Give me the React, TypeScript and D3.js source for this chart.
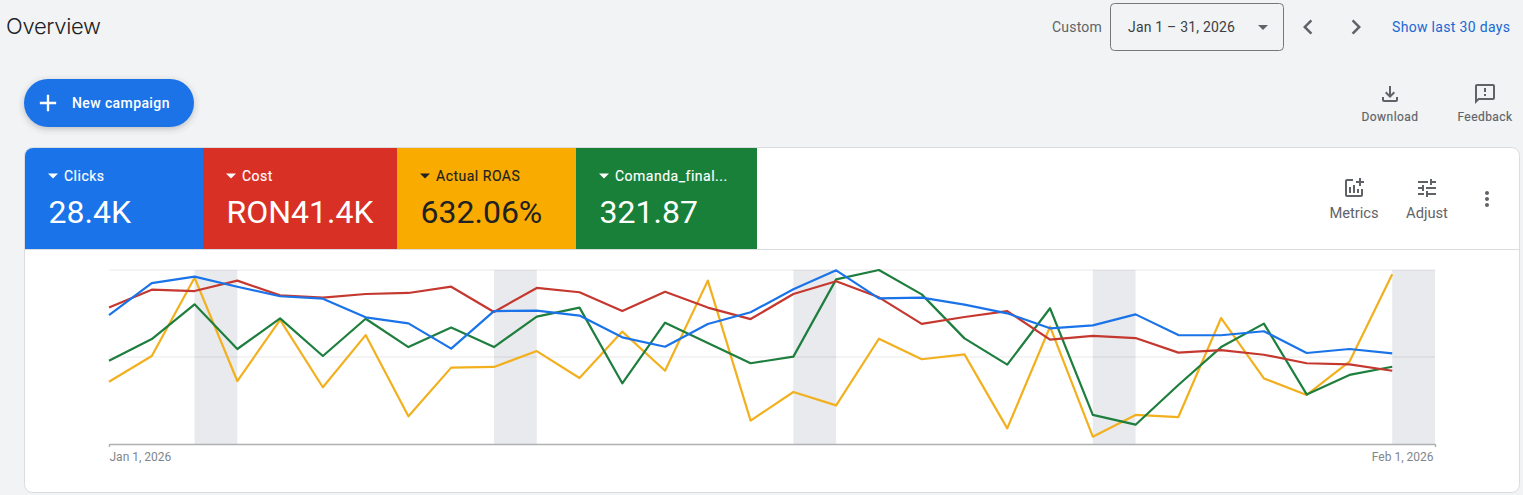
import { useEffect, useRef } from 'react';
import * as d3 from 'd3';

const clicks = [74.1, 92.5, 96.2, 90.4, 84.9, 83.5, 72.8, 69.3, 54.8, 76.4, 76.6, 73.8, 61.3, 55.9, 69.0, 75.7, 88.9, 99.8, 83.7, 84.1, 80.1, 75.1, 66.5, 68.2, 74.5, 62.6, 62.5, 64.8, 52.3, 54.6, 52.1];
const cost = [78.4, 88.7, 87.9, 93.9, 85.4, 84.1, 86.2, 86.8, 90.4, 75.9, 89.7, 87.2, 76.4, 87.5, 78.4, 71.8, 86.2, 93.5, 84.3, 69.0, 73.0, 76.4, 60.0, 62.1, 60.9, 52.5, 54.0, 51.3, 46.4, 45.8, 42.1];
const roas = [35.8, 50.6, 95.6, 36.2, 71.3, 32.6, 62.6, 15.9, 43.9, 44.3, 53.4, 37.9, 64.6, 42.1, 93.9, 13.4, 29.9, 22.2, 60.5, 48.7, 51.5, 9.0, 67.4, 4.2, 16.7, 15.5, 72.4, 37.7, 28.2, 47.3, 97.5];
const comanda = [47.9, 60.3, 80.3, 54.6, 72.2, 50.6, 72.0, 55.7, 66.9, 55.7, 73.2, 78.4, 34.9, 69.7, 58.0, 46.4, 50.2, 94.6, 100, 86.0, 60.7, 45.6, 78.0, 16.7, 11.1, 33.9, 55.7, 69.2, 28.5, 39.7, 44.4];

const metricNames = ['Clicks', 'Cost', 'Actual ROAS', 'Comanda_final...'];
const metricValues = ['28.4K', 'RON41.4K', '632.06%', '321.87'];
const metricColors = ['#1a73e8', '#d93025', '#f9ab00', '#188038'];
const lineColors = ['#1a73e8', '#c5382f', '#f2b01e', '#1e7e3e'];
const gridValues = [100, 50];

const startDate = new Date(Date.UTC(2026, 0, 1));
const endDate = new Date(Date.UTC(2026, 1, 1));

const FONT = 'Roboto, sans-serif';
const tileEdges = [25, 203, 397, 576, 757];

const ICONS = {
  download: 'M18 15v3H6v-3H4v3c0 1.1.9 2 2 2h12c1.1 0 2-.9 2-2v-3h-2zm-1-4l-1.41-1.41L13 12.17V4h-2v8.17L8.41 9.59 7 11l5 5 5-5z',
  feedback: 'M20 2H4c-1.1 0-2 .9-2 2v18l4-4h14c1.1 0 2-.9 2-2V4c0-1.1-.9-2-2-2zm0 14H5.17L4 17.17V4h16v12zM11 12h2v2h-2zm0-6h2v4h-2z',
  metrics: 'M22 5v2h-3v3h-2V7h-3V5h3V2h2v3h3zm-3 14H5V5h6V3H5c-1.1 0-2 .9-2 2v14c0 1.1.9 2 2 2h14c1.1 0 2-.9 2-2v-6h-2v6zm-4-6v4h2v-4h-2zm-4 4h2V9h-2v8zm-2 0v-6H7v6h2z',
  tune: 'M3 17v2h6v-2H3zM3 5v2h10V5H3zm10 16v-2h8v-2h-8v-2h-2v6h2zM7 9v2H3v2h4v2h2V9H7zm14 4v-2H11v2h10zm-6-4h2V7h4V5h-4V3h-2v6z',
  more: 'M12 8c1.1 0 2-.9 2-2s-.9-2-2-2-2 .9-2 2 .9 2 2 2zm0 2c-1.1 0-2 .9-2 2s.9 2 2 2 2-.9 2-2-.9-2-2-2zm0 6c-1.1 0-2 .9-2 2s.9 2 2 2 2-.9 2-2-.9-2-2-2z',
  left: 'M15.41 7.41L14 6l-6 6 6 6 1.41-1.41L10.83 12z',
  right: 'M10 6L8.59 7.41 13.17 12l-4.58 4.59L10 18l6-6z',
  plus: 'M19 13h-6v6h-2v-6H5v-2h6V5h2v6h6v2z',
};

function Icon({ d, cx, cy, size = 24, fill = '#5f6368' }: { d: string; cx: number; cy: number; size?: number; fill?: string }) {
  const k = size / 24;
  return <path d={d} fill={fill} transform={`translate(${cx - size / 2},${cy - size / 2}) scale(${k})`} />;
}

function Caret({ x, y, fill }: { x: number; y: number; fill: string }) {
  return <path d={`M${x},${y}h10l-5,5z`} fill={fill} />;
}

export default function App() {
  const chartRef = useRef<SVGGElement>(null);

  useEffect(() => {
    if (!chartRef.current) return;
    const g = d3.select(chartRef.current);
    g.selectAll('*').remove();

    const xScale = d3.scaleUtc().domain([startDate, endDate]).range([109, 1435]);
    const yScale = d3.scaleLinear().domain([0, 100]).range([444, 270]);
    const days = d3.utcDay.range(startDate, endDate);

    // weekends
    g.selectAll('.weekend')
      .data(d3.utcSaturday.range(startDate, endDate))
      .enter()
      .append('rect')
      .attr('class', 'weekend')
      .attr('x', (d) => xScale(d))
      .attr('width', (d) => xScale(d3.utcDay.offset(d, 1)) - xScale(d))
      .attr('y', yScale(100))
      .attr('height', yScale(0) - yScale(100))
      .attr('fill', '#e8eaed');

    g.selectAll('.grid-line')
      .data(gridValues)
      .enter()
      .append('line')
      .attr('class', 'grid-line')
      .attr('x1', xScale(startDate))
      .attr('x2', xScale(endDate))
      .attr('y1', (d) => yScale(d))
      .attr('y2', (d) => yScale(d))
      .attr('stroke', '#000')
      .attr('stroke-opacity', 0.06)
      .attr('stroke-width', 1.5);

    const axis = d3.axisBottom(xScale)
      .tickValues([startDate, endDate])
      .tickSize(3)
      .tickSizeOuter(0)
      .tickFormat(d3.utcFormat('%b %-d, %Y') as any);

    const axisG = g.append('g').attr('transform', `translate(0,${yScale(0)})`).call(axis);
    axisG.selectAll('.domain, .tick line').attr('stroke', '#aeb0b3').attr('stroke-width', 1.5);
    axisG.selectAll('text')
      .attr('x', (_d, i) => (i === 0 ? 0 : -2))
      .attr('y', 17)
      .attr('dy', 0)
      .attr('fill', '#80868b')
      .attr('font-size', 12)
      .attr('font-family', FONT)
      .style('text-anchor', (_d, i) => (i === 0 ? 'start' : 'end'));

    const line = d3.line<number>()
      .x((_d, i) => xScale(days[i]))
      .y((d) => yScale(d));

    [roas, comanda, cost, clicks].forEach((values) => {
      const color = lineColors[[clicks, cost, roas, comanda].indexOf(values)];
      g.append('path')
        .datum(values)
        .attr('fill', 'none')
        .attr('stroke', color)
        .attr('stroke-width', 2.2)
        .attr('stroke-linejoin', 'round')
        .attr('d', line);
    });
  }, []);

  return (
    <svg width={1523} height={495} style={{ position: 'absolute', left: 0, top: 0, display: 'block' }} fontFamily={FONT}>
      <defs>
        <filter id="btn-shadow" x="-20%" y="-30%" width="140%" height="170%">
          <feDropShadow dx="0" dy="2" stdDeviation="3" floodColor="#3c4043" floodOpacity="0.3" />
        </filter>
        <clipPath id="tile-clip">
          <path d="M25,249V156a8,8 0 0 1 8,-8H757V249Z" />
        </clipPath>
      </defs>
      <rect width={1523} height={495} fill="#f1f3f4" />

      {/* header */}
      <text x={6} y={34} fontSize={22} fontWeight={300} fill="#202124" fontFamily="Inter, Roboto, sans-serif" letterSpacing={-0.3}>Overview</text>
      <text x={1052} y={32} fontSize={14} fill="#5f6368" letterSpacing={0.2}>Custom</text>
      <rect x={1110.5} y={3.5} width={173} height={47} rx={4} fill="none" stroke="#757779" />
      <text x={1128} y={32} fontSize={14} fill="#3c4043" letterSpacing={0.2}>Jan 1 – 31, 2026</text>
      <Caret x={1258} y={25} fill="#5f6368" />
      <Icon d={ICONS.left} cx={1308} cy={27} size={30} />
      <Icon d={ICONS.right} cx={1356} cy={27} size={30} />
      <text x={1392} y={32} fontSize={14} fill="#1967d2" letterSpacing={0.32}>Show last 30 days</text>

      {/* new campaign button */}
      <rect x={24} y={79} width={170} height={48} rx={24} fill="#1a73e8" filter="url(#btn-shadow)" />
      <Icon d={ICONS.plus} cx={48} cy={103} size={28} fill="#fff" />
      <text x={72} y={108} fontSize={14} fontWeight={500} fill="#fff" letterSpacing={0.4}>New campaign</text>

      <Icon d={ICONS.download} cx={1390} cy={94} />
      <text x={1390} y={121} fontSize={12} fontWeight={400} fill="#5f6368" stroke="#5f6368" strokeWidth={0.15} textAnchor="middle" letterSpacing={0.45}>Download</text>
      <Icon d={ICONS.feedback} cx={1485} cy={94} />
      <text x={1485} y={121} fontSize={12} fontWeight={400} fill="#5f6368" stroke="#5f6368" strokeWidth={0.15} textAnchor="middle" letterSpacing={0.45}>Feedback</text>

      {/* card */}
      <rect x={24.5} y={147.5} width={1495} height={345} rx={8} fill="#fff" stroke="#dadce0" />
      <g clipPath="url(#tile-clip)">
        {metricNames.map((name, i) => (
          <rect key={name} x={tileEdges[i]} y={148} width={tileEdges[i + 1] - tileEdges[i]} height={101} fill={metricColors[i]} />
        ))}
      </g>
      <line x1={25} x2={1520} y1={249.5} y2={249.5} stroke="#dadce0" />
      {metricNames.map((name, i) => {
        const x = tileEdges[i] + 23;
        const ink = i === 2 ? '#202124' : '#fff';
        return (
          <g key={name}>
            <Caret x={x} y={173.5} fill={ink} />
            <text x={x + 16} y={181} fontSize={14} fontWeight={400} fill={ink} stroke={ink} strokeWidth={0.15} letterSpacing={0.5}>{name}</text>
            <text x={x + 0.5} y={223} fontSize={32} fill={ink}>{metricValues[i]}</text>
          </g>
        );
      })}

      <Icon d={ICONS.metrics} cx={1354} cy={188} />
      <text x={1354} y={218} fontSize={14.7} fill="#5f6368" textAnchor="middle">Metrics</text>
      <Icon d={ICONS.tune} cx={1427} cy={188} />
      <text x={1427} y={218} fontSize={14.7} fill="#5f6368" textAnchor="middle">Adjust</text>
      <Icon d={ICONS.more} cx={1487} cy={199} />

      <g ref={chartRef} />
    </svg>
  );
}
